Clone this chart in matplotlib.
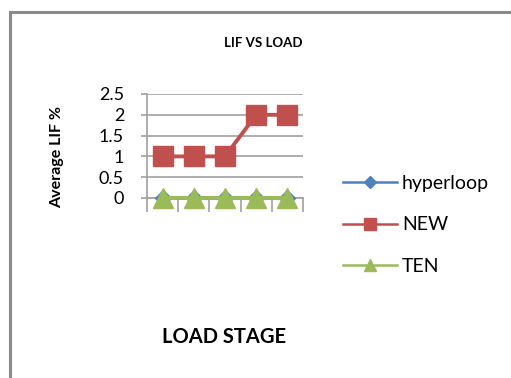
import matplotlib
matplotlib.use("Agg")
from matplotlib import pyplot as plt
from matplotlib.lines import Line2D
from matplotlib.patches import Rectangle

plt.rcParams['font.family'] = ['Lato', 'DejaVu Sans']

stages = [1, 2, 3, 4, 5]
hyperloop = [0, 0, 0, 0, 0]
new = [1, 1, 1, 2, 2]
ten = [0, 0, 0, 0, 0]
y_ticks = [0, 0.5, 1, 1.5, 2, 2.5]
y_labels = ["0", "0.5", "1", "1.5", "2", "2.5"]

BLUE = "#4F81BD"
RED = "#C0504D"
GREEN = "#9BBB59"
GRID = "#A0A0A0"

W, H = 511, 378
fig = plt.figure(figsize=(W / 100, H / 100), dpi=100)

# outer chart frame (only left/top visible, rest runs off the image)
fig.patches.append(Rectangle((9.5 / W, -0.1), 1.2, (H - 12.5) / H + 0.1,
                             transform=fig.transFigure, fill=False,
                             edgecolor="#8A8A8A", linewidth=2.2))

ax = fig.add_axes([147 / W, 1 - 198 / H, 156 / W, 104 / H])
x = range(len(stages))

ax.plot(x, hyperloop, color=BLUE, lw=2.8, marker="D", ms=8.5, zorder=3,
        clip_on=False)
ax.plot(x, new, color=RED, lw=2.8, marker="s", ms=14.5, zorder=3,
        clip_on=False)
ax.plot(x, ten, color=GREEN, lw=2.8, marker="^", ms=15, zorder=4,
        clip_on=False)

ax.set_xlim(-0.5, len(stages) - 0.5)
ax.set_ylim(0, 2.5)
ax.set_yticks(y_ticks)
ax.set_yticklabels(y_labels, fontsize=13)
ax.set_xticks([i - 0.5 for i in range(len(stages) + 1)])
ax.set_xticklabels([])
ax.tick_params(axis="x", length=10, width=1.2, color=GRID, direction="out")
ax.tick_params(axis="y", length=4.5, width=1.2, color=GRID, pad=12)
ax.yaxis.grid(True, color=GRID, lw=1.2)
ax.set_axisbelow(True)
for side in ["top", "right"]:
    ax.spines[side].set_visible(False)
ax.spines["left"].set_color(GRID)
ax.spines["left"].set_linewidth(1.2)
ax.spines["bottom"].set_color(GRID)
ax.spines["bottom"].set_linewidth(1.2)
ax.patch.set_alpha(0)

fig.text(263 / W, 1 - 43 / H, "LIF VS LOAD", fontsize=9.5, fontweight="bold",
         ha="center", va="center")
fig.text(57 / W, 1 - 157 / H, "Average LIF %", fontsize=11.5, fontweight="bold",
         rotation=90, ha="center", va="center")
fig.text(224 / W, 1 - 337 / H, "LOAD STAGE", fontsize=14.5, fontweight="bold",
         ha="center", va="center")

handles = [
    Line2D([], [], color=BLUE, lw=1.8, marker="D", ms=6),
    Line2D([], [], color=RED, lw=1.8, marker="s", ms=8.5),
    Line2D([], [], color=GREEN, lw=1.8, marker="^", ms=9),
]
fig.legend(handles, ["hyperloop", "NEW", "TEN"], loc="center left",
           bbox_to_anchor=(325 / W, 1 - 225 / H), frameon=False,
           fontsize=14, handlelength=2.8, handletextpad=0.25,
           labelspacing=1.25)

fig.savefig("out.png", dpi=100)
